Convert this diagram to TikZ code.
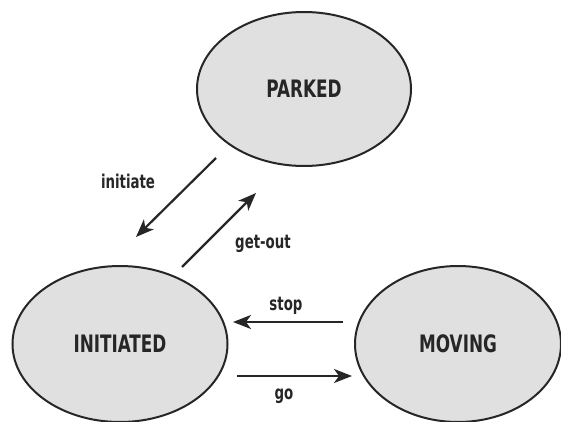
\documentclass[tikz,border=0pt]{standalone}
\usepackage{fontspec}
\newfontfamily\statefont[FakeStretch=0.78]{DejaVu Sans Condensed}
\usetikzlibrary{shapes.geometric,arrows.meta}
\begin{document}
\begin{tikzpicture}[x=1pt,y=-1pt,
  state/.style={ellipse,draw=black!85,line width=2pt,fill=black!12,
    inner sep=0pt,minimum width=214pt,minimum height=154pt,
    font=\statefont\bfseries\fontsize{24}{28}\selectfont,text=black!85},
  trans/.style={line width=2.2pt,draw=black!85,
    -{Stealth[length=18pt,width=14pt,inset=5pt]}},
  lbl/.style={font=\statefont\bfseries\fontsize{19}{22}\selectfont,text=black!85}]
\useasboundingbox (0,0) rectangle (561,422);

% states
\node[state] (parked) at (304,89) {PARKED};
\node[state,minimum width=215pt,minimum height=156pt] (initiated) at (120,344) {INITIATED};
\node[state,minimum width=206pt,minimum height=156pt] (moving) at (458,344) {MOVING};

% end points of the transition arrows
\coordinate (iniA) at (216,158);
\coordinate (iniB) at (136,237);
\coordinate (outA) at (182,267);
\coordinate (outB) at (256,193);
\coordinate (stopA) at (343,322);
\coordinate (stopB) at (233,322);
\coordinate (goA) at (237,376);
\coordinate (goB) at (352,376);

% transitions
\draw[trans] (iniA) -- (iniB);
\draw[trans] (outA) -- (outB);
\draw[trans] (stopA) -- (stopB);
\draw[trans] (goA) -- (goB);

% transition labels
\node[lbl] (lini) at (128,181) {initiate};
\node[lbl] (lout) at (263,244) {get-out};
\node[lbl] (lstop) at (286,306) {stop};
\node[lbl] (lgo) at (284,396) {go};
\end{tikzpicture}
\end{document}
